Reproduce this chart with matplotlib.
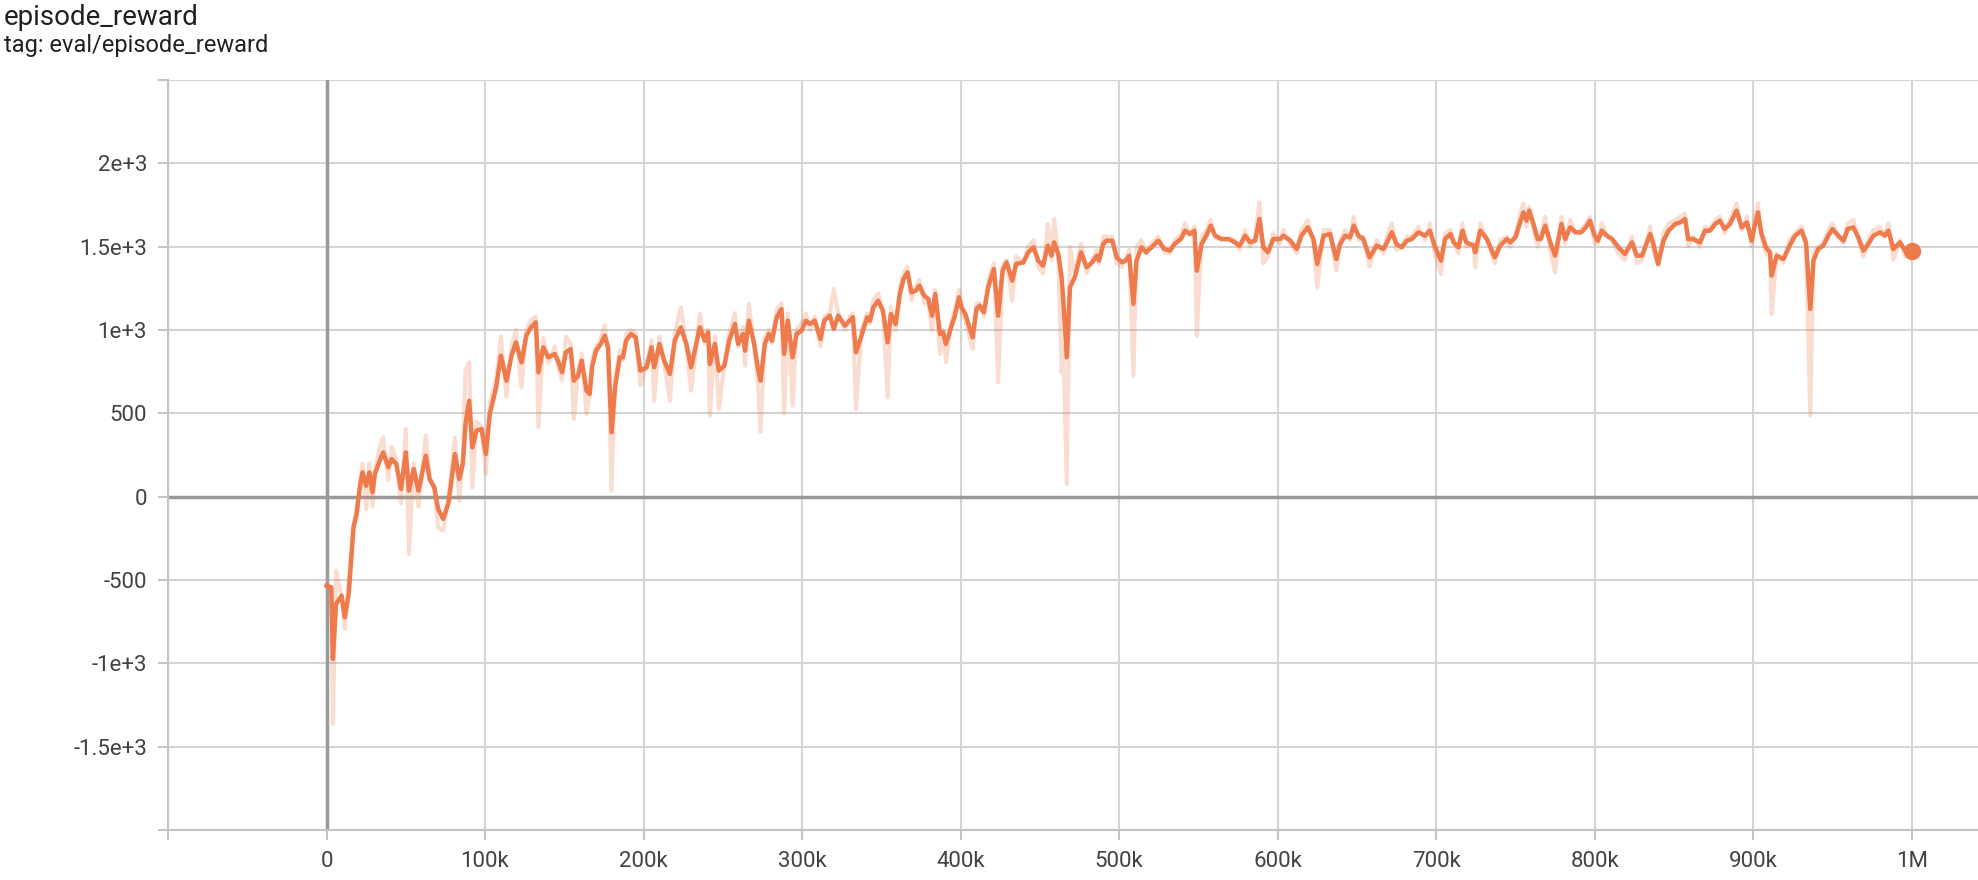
import matplotlib
matplotlib.use("Agg")
import matplotlib.pyplot as plt
import numpy as np

plt.rcParams["font.family"] = ["Roboto", "DejaVu Sans"]

# steps in thousands
steps_k = [
    0, 3, 4, 6, 9.5, 11.5, 14, 17, 19, 21, 22.7, 25, 27, 29, 30.5, 33.6, 35.7, 39, 41, 44,
    47, 50, 52, 55, 58, 62.6, 65, 68, 70.4, 73.6, 77, 81, 83.7, 86, 87.7, 90, 92, 94.6, 97.8, 100.5,
    103, 107, 110, 113.5, 116.7, 119.5, 123, 126, 129, 132, 133.7, 136.7, 140,
    144, 146, 148.6, 151, 154, 156, 158.7, 161, 164, 166, 167.5, 170, 173, 175.5, 177.6, 179.8, 182, 185, 187, 189,
    192, 195, 198, 202, 205, 206.7, 210, 213, 216.6, 219.7, 223.5, 227, 230, 235.5, 238.6, 240.7, 241.8, 245, 247.5, 251,
    254, 257.6, 259.7, 262.8, 264, 266.4, 269.8, 272, 273.8, 276.5, 279, 281, 284, 287,
    288.7, 291, 294, 296.5, 299.7, 302.4, 305, 308, 311.6, 314, 317.5, 320, 322.8, 327, 330, 332, 334, 337.5, 341, 342.8,
    345, 348, 351, 354, 356, 359, 361.7, 364, 366.5, 369, 371.8, 374, 377, 379.6, 382, 384, 387, 389, 390.7, 394,
    396.4, 399, 400.6, 403, 405.5, 407.6, 410, 412, 414.7, 417.4, 421, 423.7, 426.5,
    429, 432.6, 435, 439.6, 442.7, 446, 449, 452, 455, 457.4, 459, 461.6, 463.7, 464.8, 467, 469, 472, 476, 479.5, 483,
    486, 487.3, 490, 492, 495.7, 498.5, 501.6, 504, 506.4, 509, 511, 514, 517, 520.5, 524.7, 528.5, 532, 535, 539, 541.6,
    544.7, 547.5, 549, 552, 555, 557.8, 560.5, 564.7, 569,
    573, 576, 579.5, 582.6, 585.8, 588.5, 591, 593.8, 597.3, 601.5, 603.6, 608, 612, 615, 619, 622.6, 625, 629, 633, 637,
    639.4, 642.6, 645.7, 648, 651, 654, 658, 662.5, 666.7, 669, 672, 675, 678.3, 681.5, 684.6, 688.8, 693, 696, 699, 703,
    705.6, 709,
    711, 714, 716.6, 719, 723.6, 724.6, 727.8, 732, 737, 740.4, 744.6, 746.7, 750, 753, 755, 757, 758.7, 761.4, 764, 766,
    768.8, 772, 775, 779, 781.4, 784.5, 788, 791.5, 794.4, 797, 800, 802, 804.5, 807.7, 811, 815, 819, 823.5, 826.6, 829.8,
    835, 837, 840, 843.4, 846.6, 850.8,
    854, 857, 859, 862, 866.4, 869.6, 872.7, 876, 879, 882, 885.3, 889.5, 892.7, 896, 899, 901, 903, 905, 908, 910.6,
    911.6, 914.8, 919, 923, 926.4, 930.5, 933.3, 936, 938, 941, 944.2, 947.4, 950, 953.7, 957, 959.6, 963.2, 966.3, 969.5, 972.6,
    975.8, 980, 983, 985.3, 988.4, 992.6, 995.8, 1000,
]

# smoothed curve (dark orange line)
smoothed = [
    -534, -544, -974, -644, -594, -724, -584, -184, -104, 56, 146, 66, 146, 26, 136, 216, 266, 176, 226, 196,
    46, 266, 36, 166, 36, 246, 106, 56, -74, -134, -34, 256, 106, 196, 436, 576, 296, 396, 406, 256,
    496, 656, 846, 696, 846, 926, 806, 966, 1016, 1046, 746, 896, 836,
    856, 816, 746, 866, 886, 696, 726, 816, 636, 616, 776, 876, 916, 966, 896, 386, 656, 836, 836, 936,
    976, 956, 756, 776, 896, 776, 916, 816, 736, 936, 1016, 916, 776, 1016, 936, 986, 796, 916, 756, 786,
    936, 1036, 916, 976, 876, 1056, 916, 776, 696, 916, 976, 936, 1076, 1126,
    856, 1056, 836, 976, 996, 1056, 1036, 1056, 946, 1056, 1086, 1006, 1086, 1026, 1056, 1076, 866, 966, 1076, 1056,
    1136, 1176, 1116, 926, 1096, 1036, 1216, 1306, 1346, 1226, 1236, 1266, 1206, 1186, 1086, 1216, 976, 986, 916, 1016,
    1086, 1196, 1136, 1096, 1016, 956, 1126, 1146, 1106, 1256, 1366, 1086, 1356,
    1406, 1296, 1396, 1406, 1466, 1496, 1416, 1386, 1506, 1446, 1526, 1456, 1316, 1176, 836, 1256, 1316, 1466, 1376, 1406,
    1446, 1416, 1516, 1536, 1536, 1436, 1406, 1416, 1446, 1156, 1416, 1496, 1466, 1496, 1536, 1486, 1476, 1516, 1546, 1596,
    1576, 1596, 1356, 1516, 1566, 1626, 1566, 1546, 1546,
    1526, 1506, 1566, 1526, 1536, 1666, 1496, 1466, 1546, 1546, 1566, 1536, 1486, 1566, 1616, 1546, 1396, 1566, 1576, 1426,
    1516, 1566, 1556, 1626, 1566, 1546, 1436, 1506, 1486, 1526, 1586, 1516, 1496, 1536, 1546, 1586, 1566, 1596, 1506, 1416,
    1546, 1576,
    1526, 1496, 1596, 1526, 1506, 1466, 1596, 1546, 1436, 1506, 1546, 1526, 1556, 1646, 1706, 1656, 1716, 1636, 1546, 1546,
    1626, 1526, 1446, 1636, 1546, 1616, 1586, 1586, 1616, 1656, 1566, 1536, 1596, 1566, 1546, 1496, 1456, 1526, 1446, 1446,
    1576, 1516, 1396, 1536, 1596, 1636,
    1646, 1666, 1546, 1546, 1526, 1596, 1596, 1636, 1656, 1606, 1636, 1716, 1616, 1646, 1536, 1626, 1706, 1586, 1496, 1466,
    1326, 1446, 1426, 1506, 1566, 1596, 1526, 1126, 1416, 1486, 1506, 1566, 1606, 1566, 1536, 1606, 1616, 1556, 1476, 1516,
    1566, 1586, 1566, 1596, 1486, 1526, 1476, 1476,
]

# raw episode rewards (faint line)
raw = [
    -530, -560, -1364, -444, -600, -794, -500, -180, -60, 60, 200, -74, 200, -60, 150, 300, 356, 100, 300, 220,
    -40, 406, -344, 200, -60, 366, 120, 40, -184, -204, 0, 356, -24, 240, 756, 806, 56, 450, 420, 136,
    560, 700, 960, 600, 900, 1000, 656, 1000, 1060, 1080, 416, 950, 800,
    900, 780, 700, 960, 920, 466, 750, 860, 496, 600, 820, 900, 950, 1026, 880, 36, 700, 880, 820, 980,
    1000, 980, 666, 800, 940, 576, 960, 800, 576, 980, 1136, 900, 636, 1096, 920, 1000, 486, 960, 526, 800,
    980, 1100, 900, 1020, 786, 1156, 900, 700, 388, 960, 1000, 920, 1120, 1160,
    500, 1100, 546, 1000, 1040, 1100, 1000, 1080, 900, 1080, 1100, 1246, 1100, 1000, 1080, 1100, 526, 1000, 1100, 1040,
    1180, 1220, 1100, 596, 1140, 1000, 1260, 1340, 1380, 1180, 1260, 1300, 1160, 1160, 1000, 1240, 856, 1000, 806, 1040,
    1120, 1240, 1100, 1060, 960, 886, 1160, 1160, 1080, 1300, 1400, 686, 1380,
    1420, 1176, 1440, 1400, 1500, 1540, 1380, 1340, 1636, 1420, 1666, 1440, 746, 900, 76, 1500, 1340, 1520, 1340, 1420,
    1480, 1400, 1560, 1560, 1560, 1400, 1380, 1420, 1480, 726, 1500, 1540, 1460, 1520, 1560, 1470, 1460, 1540, 1570, 1640,
    1570, 1620, 966, 1560, 1600, 1660, 1560, 1540, 1546,
    1540, 1480, 1600, 1500, 1560, 1766, 1400, 1440, 1580, 1520, 1600, 1520, 1460, 1600, 1660, 1520, 1256, 1600, 1600, 1356,
    1540, 1600, 1540, 1680, 1540, 1560, 1380, 1540, 1460, 1560, 1640, 1480, 1500, 1560, 1560, 1620, 1540, 1640, 1460, 1336,
    1580, 1600,
    1540, 1460, 1640, 1500, 1520, 1376, 1640, 1540, 1400, 1540, 1560, 1500, 1580, 1700, 1760, 1620, 1740, 1600, 1500, 1560,
    1680, 1480, 1346, 1680, 1520, 1660, 1580, 1600, 1640, 1680, 1520, 1520, 1640, 1560, 1540, 1460, 1420, 1560, 1400, 1420,
    1620, 1480, 1390, 1580, 1640, 1660,
    1680, 1700, 1500, 1560, 1500, 1620, 1600, 1660, 1680, 1580, 1660, 1760, 1600, 1680, 1500, 1680, 1760, 1560, 1460, 1440,
    1096, 1460, 1400, 1540, 1580, 1620, 1500, 486, 1460, 1500, 1520, 1600, 1640, 1560, 1520, 1640, 1660, 1540, 1440, 1540,
    1600, 1620, 1560, 1640, 1420, 1540, 1440, 1476,
]

y_ticks = [-2000, -1500, -1000, -500, 0, 500, 1000, 1500, 2000, 2500]
y_labels = ["", "-1.5e+3", "-1e+3", "-500", "0", "500", "1e+3", "1.5e+3", "2e+3", ""]
x_ticks = [-100e3, 0, 100e3, 200e3, 300e3, 400e3, 500e3, 600e3, 700e3, 800e3, 900e3, 1e6]
x_labels = ["", "0", "100k", "200k", "300k", "400k", "500k", "600k", "700k", "800k", "900k", "1M"]

steps = np.array(steps_k) * 1000
color = "#ef7a4b"

fig = plt.figure(figsize=(19.78, 8.80), dpi=100)
ax = fig.add_axes([168 / 1978, 50 / 880, 1 - 168 / 1978, 750 / 880])

ax.plot(steps, raw, color=color, alpha=0.25, lw=3, zorder=3)
ax.plot(steps, smoothed, color=color, lw=3.2, zorder=4)
ax.plot(steps[-1], smoothed[-1], "o", color=color, ms=11.5, zorder=5)

ax.set_xlim(-100e3, 1.0418e6)
ax.set_ylim(-2000, 2500)
ax.set_xticks(x_ticks, x_labels)
ax.set_yticks(y_ticks, y_labels)
ax.grid(True, color="#d4d4d4", lw=1.5, zorder=1)
ax.axhline(0, color="#9a9a9a", lw=2.5, zorder=2)
ax.axvline(0, color="#9a9a9a", lw=2.5, zorder=2)

for side in ["top", "right"]:
    ax.spines[side].set_visible(False)
for side in ["left", "bottom"]:
    ax.spines[side].set_color("#c4c4c4")
    ax.spines[side].set_linewidth(1.5)
ax.tick_params(length=7, width=1.5, color="#c4c4c4", labelsize=16, labelcolor="#424242", pad=8)

fig.text(4 / 1978, 1 - 4 / 880, "episode_reward", fontsize=20, color="#212121", va="top")
fig.text(4 / 1978, 1 - 34 / 880, "tag: eval/episode_reward", fontsize=17, color="#212121", va="top")

fig.savefig("out.png", dpi=100)
